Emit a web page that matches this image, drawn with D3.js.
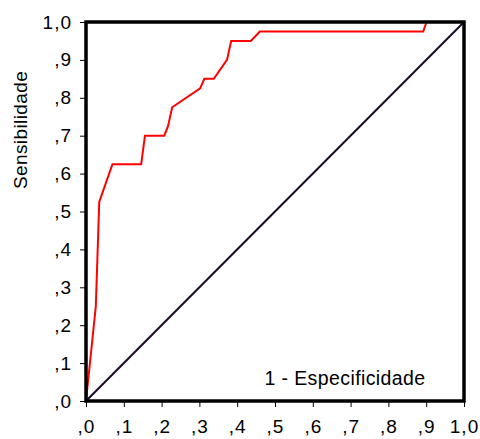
<!DOCTYPE html>
<html>
<head>
    <meta charset="utf-8" />
    <script src="https://d3js.org/d3.v7.min.js" charset="utf-8"></script>
    <title>Curva ROC</title>
    <style type="text/css">
        body { margin: 0; background: #fff; }
        text { font-family: Arial, "Liberation Sans", sans-serif; fill: #000; }
        .tick text { letter-spacing: 1px; }
        .title { letter-spacing: 0.4px; }
        .roc { fill: none; stroke: #ff0000; stroke-width: 2px; }
        .ref { stroke: #1c0a2a; stroke-width: 2px; }
        .frame { fill: none; stroke: #000; stroke-width: 3.5px; }
        .tick line { stroke: #000; }
    </style>
</head>
<body>
    <div id="chart"></div>

    <script type="text/javascript">
        // 1 - especificidade
        const fpr = [0, 0.026, 0.035, 0.070, 0.146, 0.156, 0.207, 0.217, 0.228, 0.302, 0.313, 0.338, 0.373, 0.384, 0.436, 0.460, 0.892, 0.901, 1];
        // sensibilidade
        const tpr = [0, 0.25, 0.525, 0.625, 0.625, 0.70, 0.70, 0.725, 0.775, 0.825, 0.85, 0.85, 0.90, 0.95, 0.95, 0.975, 0.975, 1, 1];
        const tickVals = [0, 0.1, 0.2, 0.3, 0.4, 0.5, 0.6, 0.7, 0.8, 0.9, 1.0];
        const tickLabels = [",0", ",1", ",2", ",3", ",4", ",5", ",6", ",7", ",8", ",9", "1,0"];

        const width = 480, height = 439;
        const margin = { left: 86, right: 16, top: 22, bottom: 38 };

        const svg = d3.select("#chart").append("svg").attr("width", width).attr("height", height);

        const x = d3.scaleLinear().domain([0, 1]).range([margin.left, width - margin.right]);
        const y = d3.scaleLinear().domain([0, 1]).range([height - margin.bottom, margin.top]);

        const fmt = (d, i) => tickLabels[i];

        svg.append("g")
            .attr("transform", "translate(0," + y(0) + ")")
            .call(d3.axisBottom(x).tickValues(tickVals).tickFormat(fmt).tickSize(6).tickPadding(13))
            .call(g => g.select(".domain").remove())
            .selectAll("text").style("font-size", "19px");

        svg.append("g")
            .attr("transform", "translate(" + x(0) + ",0)")
            .call(d3.axisLeft(y).tickValues(tickVals).tickFormat(fmt).tickSize(6).tickPadding(8))
            .call(g => g.select(".domain").remove())
            .selectAll("text").style("font-size", "19px");

        svg.append("line").attr("class", "ref")
            .attr("x1", x(0)).attr("y1", y(0))
            .attr("x2", x(1)).attr("y2", y(1));

        const pts = fpr.map((d, i) => [d, tpr[i]]);
        svg.append("path").attr("class", "roc")
            .attr("d", d3.line().x(d => x(d[0])).y(d => y(d[1]))(pts));

        svg.append("rect").attr("class", "frame")
            .attr("x", x(0)).attr("y", y(1))
            .attr("width", x(1) - x(0)).attr("height", y(0) - y(1));

        svg.append("text").attr("class", "title")
            .attr("transform", "translate(27,130) rotate(-90)")
            .attr("text-anchor", "middle")
            .style("font-size", "19px")
            .text("Sensibilidade");

        svg.append("text").attr("class", "title")
            .attr("x", 345).attr("y", 385)
            .attr("text-anchor", "middle")
            .style("font-size", "19.5px")
            .text("1 - Especificidade");
    </script>
</body>
</html>
